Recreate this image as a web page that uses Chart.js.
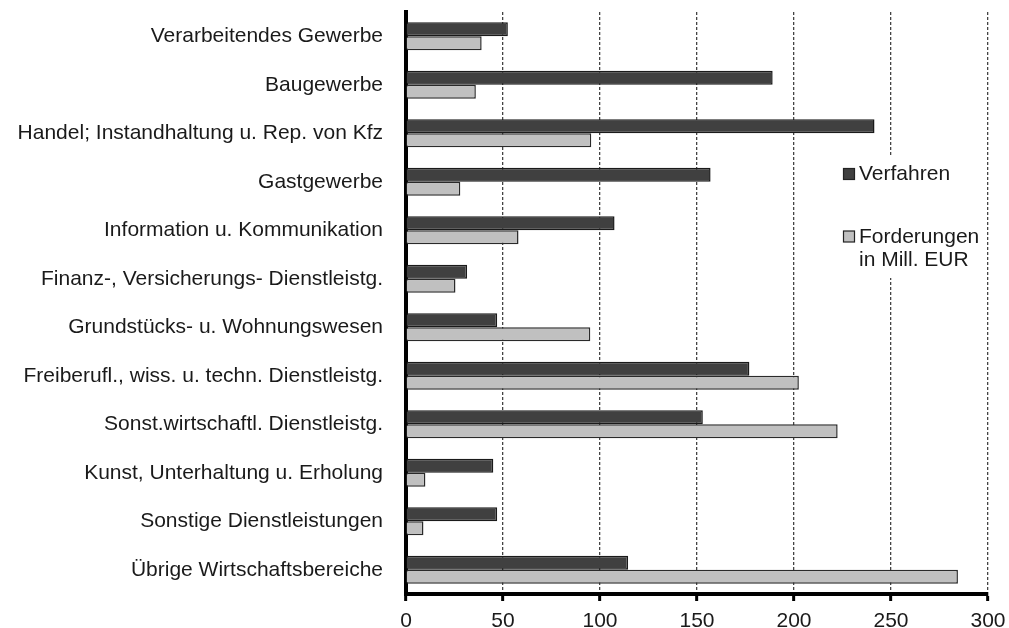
<!DOCTYPE html>
<html lang="de">
<head>
<meta charset="utf-8">
<title>Verfahren und Forderungen nach Wirtschaftsbereichen</title>
<script src="https://cdn.jsdelivr.net/npm/chart.js@4/dist/chart.umd.min.js"></script>
<style>
  html, body { margin: 0; padding: 0; background: #fff; }
  #wrap { width: 1009px; height: 628px; position: relative; }
</style>
</head>
<body>
<div id="wrap"><canvas id="branchenChart"></canvas></div>
<script>
// Wirtschaftsbereiche (von oben nach unten)
const categories = [
  'Verarbeitendes Gewerbe',
  'Baugewerbe',
  'Handel; Instandhaltung u. Rep. von Kfz',
  'Gastgewerbe',
  'Information u. Kommunikation',
  'Finanz-, Versicherungs- Dienstleistg.',
  'Grundstücks- u. Wohnungswesen',
  'Freiberufl., wiss. u. techn. Dienstleistg.',
  'Sonst.wirtschaftl. Dienstleistg.',
  'Kunst, Unterhaltung u. Erholung',
  'Sonstige Dienstleistungen',
  'Übrige Wirtschaftsbereiche'
];

// Werte
const verfahren = [52.5, 189, 241.5, 157, 107.5, 31.5, 47, 177, 153, 45, 47, 114.5];
const forderungen = [39, 36, 95.5, 28, 58, 25.5, 95, 202.5, 222.5, 10, 9, 284.5];

const xTicks = [0, 50, 100, 150, 200, 250, 300];

const legendLabels = [['Verfahren'], ['Forderungen', 'in Mill. EUR']];

const FONT = '"Liberation Sans", Arial, sans-serif';
const TEXT_COLOR = '#1a1a1a';

// Legende innerhalb der Zeichenfläche (rechts)
const innerLegend = {
  id: 'innerLegend',
  afterDraw(chart) {
    const ctx = chart.ctx;
    ctx.save();
    ctx.fillStyle = '#fff';
    ctx.fillRect(836, 156, 146, 122);
    ctx.font = '21px ' + FONT;
    ctx.textAlign = 'left';
    ctx.textBaseline = 'alphabetic';
    const rows = [180, 242.5];
    chart.data.datasets.forEach((ds, i) => {
      const y = rows[i];
      ctx.fillStyle = ds.backgroundColor;
      ctx.fillRect(843.5, y - 11.5, 11, 11);
      ctx.strokeStyle = '#222';
      ctx.lineWidth = 1.2;
      ctx.strokeRect(843.5, y - 11.5, 11, 11);
      ctx.fillStyle = TEXT_COLOR;
      legendLabels[i].forEach((line, j) => {
        ctx.fillText(line, 859, y + j * 23);
      });
    });
    ctx.restore();
  }
};

function initializeBranchenChart() {
  const ctx = document.getElementById('branchenChart').getContext('2d');

  const data = {
    labels: categories,
    datasets: [{
      label: 'Verfahren',
      data: verfahren,
      backgroundColor: '#404040',
      borderColor: '#1a1a1a',
      borderWidth: 1.5,
      borderSkipped: 'start',
      barPercentage: 1.0,
      categoryPercentage: 0.58
    }, {
      label: 'Forderungen in Mill. EUR',
      data: forderungen,
      backgroundColor: '#c0c0c0',
      borderColor: '#2a2a2a',
      borderWidth: 1.5,
      borderSkipped: 'start',
      barPercentage: 1.0,
      categoryPercentage: 0.58
    }]
  };

  const options = {
    indexAxis: 'y',
    responsive: true,
    maintainAspectRatio: false,
    animation: false,
    layout: { padding: { top: 12, right: 21, bottom: 0, left: 0 } },
    scales: {
      x: {
        type: 'linear',
        min: 0,
        max: 300,
        afterBuildTicks: scale => {
          scale.ticks = xTicks.map(v => ({ value: v }));
        },
        afterFit: scale => {
          scale.height = 34;
          scale.paddingLeft = 0;
          scale.paddingRight = 0;
        },
        grid: {
          color: '#444',
          lineWidth: 1.3,
          drawTicks: true,
          tickLength: 7,
          tickColor: '#000',
          tickWidth: 3,
          tickBorderDash: []
        },
        border: { display: true, color: '#000', width: 4, dash: [3, 2] },
        ticks: {
          padding: 8,
          color: TEXT_COLOR,
          font: { family: FONT, size: 21 }
        }
      },
      y: {
        afterFit: scale => {
          scale.width = 406;
          scale.paddingTop = 0;
          scale.paddingBottom = 0;
        },
        grid: { display: false, drawTicks: false },
        border: { display: true, color: '#000', width: 4 },
        ticks: {
          padding: 23,
          color: TEXT_COLOR,
          font: { family: FONT, size: 21 }
        }
      }
    },
    plugins: {
      legend: { display: false },
      tooltip: { enabled: false }
    }
  };

  window.branchenChart = new Chart(ctx, {
    type: 'bar',
    data: data,
    options: options,
    plugins: [innerLegend]
  });
}

initializeBranchenChart();
</script>
</body>
</html>
